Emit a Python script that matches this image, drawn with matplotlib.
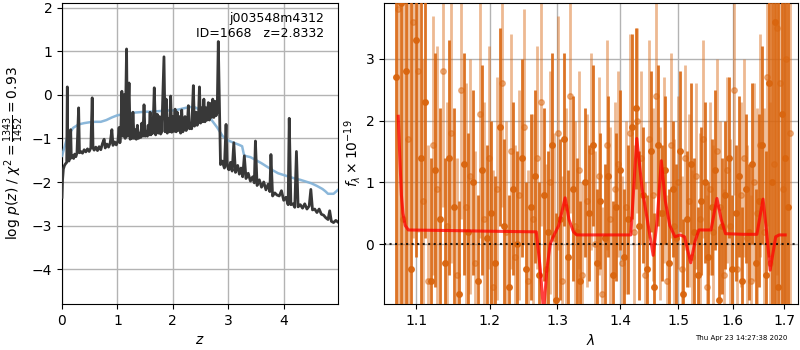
import numpy as np
import matplotlib.pyplot as plt
from matplotlib.ticker import FixedLocator, FixedFormatter, NullLocator

# redshift fit: log p(z) and the reference chi2 curve
z_grid = [0.000, 0.010, 0.025, 0.045, 0.065, 0.085, 0.096, 0.105, 0.125, 0.145,
          0.157, 0.168, 0.190, 0.210, 0.230, 0.250, 0.270, 0.300, 0.315, 0.340,
          0.370, 0.400, 0.430, 0.460, 0.490, 0.520, 0.545, 0.560, 0.580, 0.610,
          0.640, 0.670, 0.700, 0.730, 0.760, 0.780, 0.810, 0.840, 0.870, 0.900,
          0.920, 0.950, 0.980, 1.010, 1.030, 1.045, 1.060, 1.080, 1.100, 1.120,
          1.140, 1.165, 1.180, 1.210, 1.230, 1.250, 1.265, 1.280, 1.300, 1.320,
          1.340, 1.360, 1.380, 1.400, 1.420, 1.440, 1.460, 1.480, 1.500, 1.520,
          1.540, 1.555, 1.570, 1.590, 1.605, 1.620, 1.640, 1.665, 1.690, 1.720,
          1.740, 1.760, 1.780, 1.800, 1.840, 1.860, 1.880, 1.900, 1.920, 1.940,
          1.960, 1.980, 2.000, 2.020, 2.040, 2.060, 2.080, 2.100, 2.120, 2.140,
          2.160, 2.180, 2.200, 2.220, 2.240, 2.260, 2.280, 2.300, 2.320, 2.340,
          2.370, 2.390, 2.420, 2.440, 2.460, 2.480, 2.500, 2.520, 2.540, 2.560,
          2.580, 2.600, 2.620, 2.640, 2.660, 2.680, 2.700, 2.720, 2.740, 2.760,
          2.780, 2.800, 2.820, 2.845, 2.860, 2.890, 2.930, 2.960, 2.980, 3.010,
          3.040, 3.070, 3.100, 3.130, 3.170, 3.200, 3.230, 3.260, 3.290, 3.320,
          3.360, 3.400, 3.440, 3.470, 3.490, 3.520, 3.560, 3.600, 3.640, 3.680,
          3.720, 3.750, 3.770, 3.800, 3.840, 3.880, 3.920, 3.960, 4.000, 4.040,
          4.080, 4.100, 4.130, 4.170, 4.200, 4.230, 4.260, 4.300, 4.340, 4.380,
          4.420, 4.460, 4.490, 4.520, 4.560, 4.600, 4.640, 4.680, 4.720, 4.760,
          4.800, 4.830, 4.860, 4.900, 4.940, 4.980]
log_pz = [-2.35, -1.95, -1.70, -1.62, -1.58, -1.55, 0.18, -1.50, -1.52, -1.45,
          -0.80, -1.45, -1.40, -1.46, -1.36, -1.42, -1.34, -0.30, -1.33, -1.30,
          -1.34, -1.26, -1.31, -1.24, -1.30, -1.22, -0.07, -1.22, -1.27, -1.20,
          -1.28, -1.19, -1.26, -1.12, -1.02, -1.22, -1.13, -1.20, -1.10, -0.80,
          -1.16, -1.08, -1.15, -1.05, -0.75, -1.10, -0.90, 0.08, -0.95, 0.00,
          -1.00, 1.05, -0.95, 0.27, -1.02, -0.60, -1.00, -0.40, -1.00, -0.80,
          -1.02, -0.70, -1.00, -0.88, -0.98, -0.65, -0.95, -0.23, -0.95, -0.85,
          -0.95, -0.70, -0.92, -0.40, -0.92, -0.55, -0.88, 0.16, -0.92, -0.45,
          -0.88, -0.50, -0.90, -0.85, 0.87, -0.85, -0.10, -0.88, -0.55, -0.85,
          -0.03, -0.86, -0.50, -0.84, -0.33, -0.85, -0.40, -0.82, -0.50, -0.88,
          -0.35, -0.85, -0.78, -0.50, -0.82, -0.72, -0.25, -0.78, -0.70, -0.78,
          0.21, -0.72, -0.40, -0.70, -0.62, 0.18, -0.65, -0.30, -0.62, -0.10,
          -0.62, -0.30, -0.58, -0.18, -0.58, -0.20, -0.52, -0.10, -0.52, -0.15,
          -0.48, -0.40, 1.22, -0.60, -1.60, -1.52, -1.68, -0.68, -1.62, -1.72,
          -1.55, -1.75, -1.10, -1.78, -1.62, -1.82, -1.68, -1.88, -1.40, -1.92,
          -1.80, -1.98, -1.88, -2.02, -1.06, -2.08, -1.95, -2.12, -2.00, -2.18,
          -2.05, -2.22, -1.37, -2.32, -2.25, -2.30, -2.32, -2.20, -2.42, -2.35,
          -2.52, -0.54, -2.52, -2.50, -2.58, -1.30, -2.57, -2.52, -2.60, -2.50,
          -2.62, -2.55, -2.17, -2.64, -2.62, -2.70, -2.62, -2.74, -2.76, -2.82,
          -2.86, -2.66, -2.90, -2.93, -2.88, -2.92]

z_ref = [0.00, 0.05, 0.10, 0.20, 0.30, 0.40, 0.50, 0.60, 0.70, 0.80, 0.90, 1.00,
         1.10, 1.20, 1.30, 1.40, 1.50, 1.60, 1.70, 1.80, 1.90, 2.00, 2.10, 2.20,
         2.30, 2.40, 2.50, 2.60, 2.70, 2.80, 2.90, 3.00, 3.10, 3.20, 3.25, 3.28,
         3.30, 3.40, 3.50, 3.60, 3.70, 3.80, 3.90, 4.00, 4.10, 4.20, 4.30, 4.40,
         4.50, 4.60, 4.70, 4.75, 4.80, 4.90, 4.98]
chi2_ref = [-1.40, -1.18, -0.95, -0.76, -0.68, -0.65, -0.63, -0.62, -0.62, -0.58,
            -0.52, -0.47, -0.45, -0.43, -0.41, -0.40, -0.39, -0.39, -0.38, -0.37,
            -0.36, -0.36, -0.34, -0.31, -0.28, -0.29, -0.35, -0.45, -0.58, -0.75,
            -0.95, -1.05, -1.10, -1.15, -1.18, -1.36, -1.40, -1.43, -1.50, -1.57,
            -1.65, -1.73, -1.80, -1.84, -1.88, -1.92, -1.95, -1.99, -2.03, -2.09,
            -2.16, -2.21, -2.27, -2.27, -2.18]

# 1D spectrum, two beams
wave_a = [1.074, 1.080, 1.087, 1.093, 1.100, 1.106, 1.112, 1.119, 1.125, 1.132,
          1.138, 1.144, 1.151, 1.157, 1.164, 1.170, 1.176, 1.183, 1.189, 1.196,
          1.202, 1.208, 1.215, 1.221, 1.228, 1.234, 1.240, 1.247, 1.253, 1.260,
          1.266, 1.272, 1.279, 1.285, 1.292, 1.298, 1.304, 1.311, 1.317, 1.324,
          1.330, 1.336, 1.343, 1.349, 1.356, 1.362, 1.368, 1.375, 1.381, 1.388,
          1.394, 1.400, 1.407, 1.413, 1.420, 1.426, 1.432, 1.439, 1.445, 1.452,
          1.458, 1.464, 1.471, 1.477, 1.484, 1.490, 1.496, 1.503, 1.509, 1.516,
          1.522, 1.528, 1.535, 1.541, 1.548, 1.554, 1.560, 1.567, 1.573, 1.580,
          1.586, 1.592, 1.599, 1.605, 1.612, 1.618, 1.624, 1.631, 1.637, 1.644,
          1.650, 1.656, 1.663, 1.669, 1.676, 1.682, 1.688, 1.695, 1.701, 1.708]
flux_a = [2.7, 3.9, 2.8, -0.4, 3.3, 1.4, 2.3, -0.6, 1.2, 0.4,
          -0.3, 1.4, 0.6, -0.8, 1.3, 0.2, 1.0, -0.6, 1.2, 0.1,
          0.5, -0.3, 1.9, 0.3, -0.7, 0.9, 0.0, 1.4, -0.4, 0.6,
          1.1, -0.5, 0.8, 0.2, 1.6, -0.9, 0.4, 1.7, -0.2, 0.9,
          0.2, -0.6, 1.0, 0.5, 1.6, -0.3, 0.7, 0.1, 1.1, -0.5,
          0.6, 1.2, -0.2, 0.4, 1.9, 2.2, 0.3, 0.8, -0.4, 1.5,
          -0.7, 1.6, 0.5, 1.2, -0.3, 0.9, 0.1, 1.5, -0.8, 0.4,
          1.3, 0.2, -0.5, 0.7, 1.0, -0.2, 0.6, 1.2, -0.9, 0.3,
          0.8, 1.4, -0.4, 0.5, 1.1, -0.6, 0.9, 0.2, 1.3, -0.3,
          0.7, 1.6, -0.5, 2.6, 1.0, 3.6, -0.7, 2.1, 1.4, 0.6]
err_a = [6.0, 6.0, 5.5, 4.5, 3.5, 2.6, 2.2, 2.0, 1.9, 1.8,
         1.7, 1.9, 1.6, 1.5, 1.8, 1.6, 1.5, 1.4, 1.7, 1.5,
         1.5, 1.4, 1.6, 1.4, 1.5, 1.4, 1.5, 1.6, 1.4, 1.5,
         1.4, 1.5, 1.4, 1.3, 1.5, 1.4, 1.3, 1.4, 1.4, 1.5,
         1.2, 1.3, 1.2, 1.1, 1.3, 1.2, 1.1, 1.2, 1.3, 1.2,
         1.2, 1.3, 1.1, 1.2, 1.5, 1.3, 1.2, 1.1, 1.2, 1.3,
         1.2, 1.3, 1.1, 1.2, 1.2, 1.1, 1.2, 1.3, 1.2, 1.1,
         1.3, 1.2, 1.1, 1.2, 1.3, 1.2, 1.1, 1.3, 1.2, 1.1,
         1.2, 1.3, 1.2, 1.1, 1.3, 1.2, 1.2, 1.1, 1.3, 1.2,
         1.4, 1.6, 2.0, 2.8, 4.0, 5.0, 6.0, 6.0, 6.0, 6.0]

wave_b = [1.077, 1.083, 1.090, 1.096, 1.103, 1.109, 1.115, 1.122, 1.128, 1.135,
          1.141, 1.147, 1.154, 1.160, 1.167, 1.173, 1.179, 1.186, 1.192, 1.199,
          1.205, 1.211, 1.218, 1.224, 1.231, 1.237, 1.243, 1.250, 1.256, 1.263,
          1.269, 1.275, 1.282, 1.288, 1.295, 1.301, 1.307, 1.314, 1.320, 1.327,
          1.333, 1.339, 1.346, 1.352, 1.359, 1.365, 1.371, 1.378, 1.384, 1.391,
          1.397, 1.403, 1.410, 1.416, 1.423, 1.429, 1.435, 1.442, 1.448, 1.455,
          1.461, 1.467, 1.474, 1.480, 1.487, 1.493, 1.499, 1.506, 1.512, 1.519,
          1.525, 1.531, 1.538, 1.544, 1.551, 1.557, 1.563, 1.570, 1.576, 1.583,
          1.589, 1.595, 1.602, 1.608, 1.615, 1.621, 1.627, 1.634, 1.640, 1.647,
          1.653, 1.659, 1.666, 1.672, 1.679, 1.685, 1.691, 1.698, 1.704, 1.711]
flux_b = [3.8, 0.4, 1.7, 3.6, 2.8, 0.7, -0.6, 1.6, 0.9, 2.8,
          0.3, 1.8, -0.5, 2.5, 0.6, 1.1, -0.3, 2.1, 0.4, 1.4,
          -0.7, 0.9, 2.6, 0.2, 1.5, -0.2, 0.8, 1.9, -0.6, 0.4,
          1.4, 2.3, -0.4, 1.0, 0.1, 1.8, -0.6, 0.6, 2.4, 0.3,
          1.2, -0.5, 0.7, 1.5, 0.0, 1.1, -0.8, 1.6, 0.4, 0.9,
          1.3, -0.3, 0.6, 1.8, 0.2, 2.0, 1.4, -0.5, 1.7, 0.8,
          2.4, 0.5, 1.2, -0.6, 1.6, 0.3, 1.0, -0.4, 1.4, 0.7,
          -0.2, 1.1, 0.4, 1.7, -0.7, 0.9, 0.2, 1.5, 0.6, -0.5,
          1.2, 0.3, 2.5, -0.4, 0.8, 1.4, 0.1, -0.6, 1.0, 0.5,
          1.6, 0.2, 2.7, -0.3, 1.3, 3.5, 2.6, 0.9, 3.0, 1.8]
err_b = [6.0, 5.5, 4.5, 3.5, 2.6, 2.3, 2.2, 2.1, 2.3, 2.2,
         2.0, 2.1, 1.9, 2.1, 2.0, 1.9, 1.8, 2.0, 1.9, 1.8,
         1.9, 1.8, 2.0, 1.8, 1.9, 1.8, 1.7, 1.9, 1.8, 1.7,
         1.8, 2.0, 1.7, 1.8, 1.7, 1.9, 1.7, 1.6, 1.9, 1.7,
         1.6, 1.5, 1.4, 1.6, 1.5, 1.6, 1.4, 1.7, 1.5, 1.4,
         1.5, 1.4, 1.4, 1.6, 1.4, 1.5, 1.4, 1.5, 1.6, 1.4,
         1.6, 1.4, 1.5, 1.4, 1.5, 1.4, 1.4, 1.5, 1.5, 1.4,
         1.4, 1.5, 1.4, 1.6, 1.5, 1.4, 1.4, 1.5, 1.4, 1.4,
         1.5, 1.4, 1.7, 1.4, 1.5, 1.6, 1.5, 1.4, 1.6, 1.7,
         1.8, 2.0, 2.4, 2.6, 3.2, 4.0, 4.5, 5.0, 5.5, 6.0]

# best-fit model
model_wave = [1.077, 1.079, 1.081, 1.083, 1.086, 1.090, 1.150, 1.200, 1.268, 1.274,
              1.279, 1.284, 1.289, 1.295, 1.302, 1.312, 1.318, 1.325, 1.330, 1.370,
              1.418, 1.428, 1.437, 1.446, 1.456, 1.463, 1.470, 1.477, 1.485, 1.494,
              1.503, 1.511, 1.522, 1.530, 1.537, 1.559, 1.570, 1.578, 1.586, 1.620,
              1.646, 1.658, 1.665, 1.672, 1.683, 1.690, 1.702]
model_flux = [2.07, 1.40, 0.80, 0.50, 0.30, 0.23, 0.22, 0.21, 0.20, -0.40,
              -1.10, -0.40, 0.00, 0.15, 0.30, 0.75, 0.40, 0.20, 0.15, 0.15,
              0.15, 1.71, 0.90, 0.39, -0.18, 0.40, 1.35, 0.70, 0.30, 0.12,
              0.15, 0.12, -0.30, 0.05, 0.23, 0.23, 0.74, 0.40, 0.17, 0.16,
              0.16, 0.73, 0.20, -0.42, 0.12, 0.15, 0.15]

fig = plt.figure(figsize=(8, 3.5), dpi=100)

# ---- p(z) panel
ax = fig.add_axes([0.0775, 0.131, 0.345, 0.86])
ax.plot(z_ref, chi2_ref, color='#7fb0d6', lw=1.8, alpha=0.9, zorder=3)
ax.plot(z_grid, log_pz, color='0.22', lw=2.0, zorder=4)
ax.set_xlim(0, 4.98)
ax.set_ylim(-4.8, 2.1)
ax.set_xticks([0, 1, 2, 3, 4])
ax.set_yticks([-4, -3, -2, -1, 0, 1, 2])
ax.grid(color='0.7', lw=1)
ax.set_axisbelow(True)
ax.set_xlabel('$z$', fontsize=10)
ax.set_ylabel(r'log $p(z)$ / $\chi^2=\frac{1343}{1452}=0.93$', fontsize=10)
ax.text(0.95, 0.97, 'j003548m4312\nID=1668   z=2.8332', transform=ax.transAxes,
        ha='right', va='top', fontsize=9, zorder=5)

# ---- spectrum panel
ax2 = fig.add_axes([0.48, 0.131, 0.5175, 0.86])
orange = '#d9650e'
ax2.errorbar(wave_b, flux_b, yerr=err_b, marker='o', ms=4, ls='none',
             color=orange, alpha=0.45, elinewidth=2, capsize=0, zorder=2)
ax2.errorbar(wave_a, flux_a, yerr=err_a, marker='o', ms=4, ls='none',
             color=orange, alpha=0.9, elinewidth=2, capsize=0, zorder=3)
ax2.plot(model_wave, model_flux, color='red', lw=2.2, alpha=0.75, zorder=5)
ax2.axhline(0, color='k', ls=':', lw=1.5, alpha=0.85, zorder=4)

ax2.set_xscale('log')
ax2.set_xlim(1.059, 1.728)
ax2.set_ylim(-0.97, 3.9)
xt = [1.1, 1.2, 1.3, 1.4, 1.5, 1.6, 1.7]
ax2.xaxis.set_major_locator(FixedLocator(xt))
ax2.xaxis.set_major_formatter(FixedFormatter(['1.1', '1.2', '1.3', '1.4', '1.5', '1.6', '1.7']))
ax2.xaxis.set_minor_locator(NullLocator())
ax2.set_yticks([0, 1, 2, 3])
ax2.grid(color='0.7', lw=1)
ax2.set_axisbelow(True)
ax2.set_xlabel(r'$\lambda$', fontsize=10)
ax2.set_ylabel(r'$f_\lambda \times 10^{-19}$', fontsize=10, labelpad=2)

fig.text(0.984, 0.025, 'Thu Apr 23 14:27:38 2020', ha='right', va='bottom', fontsize=5)

fig.savefig('out.png', dpi=100)
